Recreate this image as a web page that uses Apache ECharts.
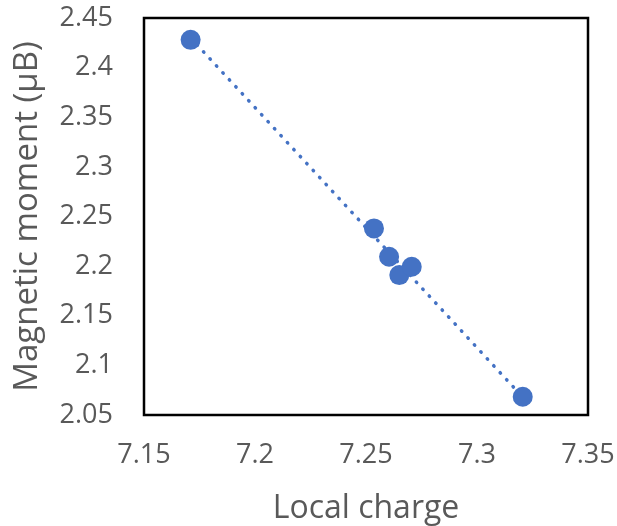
<!DOCTYPE html>
<html>
<head>
<meta charset="utf-8">
<script src="https://cdn.jsdelivr.net/npm/echarts@6/dist/echarts.min.js"></script>
<style>html,body{margin:0;padding:0;background:#fff;}#c{width:617px;height:526px;}</style>
</head>
<body>
<div id="c"></div>
<script>
var localCharge = [7.171, 7.2536, 7.2604, 7.265, 7.2706, 7.3206];
var magMoment = [2.428, 2.238, 2.2095, 2.191, 2.1994, 2.0684];
var trendX = [7.171, 7.3206];
var trendY = [2.430, 2.068];
var xTicks = {min: 7.15, max: 7.35, interval: 0.05};
var yTicks = {min: 2.05, max: 2.45, interval: 0.05};

var pts = localCharge.map(function (x, i) { return [x, magMoment[i]]; });
var trend = trendX.map(function (x, i) { return [x, trendY[i]]; });
var textColor = '#595959';
var fontFam = '"Open Sans", sans-serif';

var chart = echarts.init(document.getElementById('c'), null, {renderer: 'canvas'});
chart.setOption({
  animation: false,
  grid: {left: 144, top: 18, right: 29, bottom: 111, containLabel: false, outerBoundsMode: 'none',
    show: true, borderColor: '#000', borderWidth: 2.5, backgroundColor: 'transparent'},
  xAxis: {
    type: 'value', min: xTicks.min, max: xTicks.max, interval: xTicks.interval,
    name: 'Local charge', nameLocation: 'middle', nameGap: 78,
    nameTextStyle: {color: textColor, fontSize: 32, fontFamily: fontFam},
    axisLine: {show: false}, axisTick: {show: false}, splitLine: {show: false},
    axisLabel: {color: textColor, fontSize: 27, fontFamily: fontFam, margin: 27, hideOverlap: false,
      formatter: function (v) { return String(+v.toFixed(2)); }}
  },
  yAxis: {
    type: 'value', min: yTicks.min, max: yTicks.max, interval: yTicks.interval,
    name: 'Magnetic moment (μB)', nameLocation: 'middle', nameGap: 100,
    nameTextStyle: {color: textColor, fontSize: 33, fontFamily: fontFam},
    axisLine: {show: false}, axisTick: {show: false}, splitLine: {show: false},
    axisLabel: {color: textColor, fontSize: 27, fontFamily: fontFam, margin: 31, hideOverlap: false,
      formatter: function (v) { return String(+v.toFixed(2)); }}
  },
  series: [
    {
      type: 'line', data: trend, symbol: 'none', silent: true,
      lineStyle: {color: '#4472C4', width: 3.5, type: [0.5, 9], cap: 'round'},
      z: 1
    },
    {
      type: 'scatter', data: pts, symbol: 'circle', symbolSize: 20,
      itemStyle: {color: '#4472C4', opacity: 1},
      z: 2
    }
  ]
});
</script>
</body>
</html>
